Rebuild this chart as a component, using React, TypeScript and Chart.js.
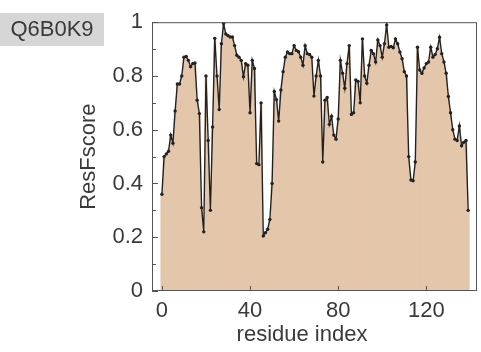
import React, { useEffect, useRef } from "react";
import { Chart, registerables } from "chart.js";

Chart.register(...registerables);

const proteinId = "Q6B0K9";
const xTitle = "residue index";
const yTitle = "ResFscore";
const xTicks = [0, 40, 80, 120];
const yTicks = [0, 0.2, 0.4, 0.6, 0.8, 1];
const resFscore = [
  0.36, 0.5, 0.51, 0.52, 0.58, 0.55, 0.67, 0.77, 0.77, 0.8,
  0.87, 0.873, 0.858, 0.834, 0.846, 0.848, 0.71, 0.66, 0.31, 0.22,
  0.8, 0.56, 0.3, 0.61, 0.94, 0.8, 0.675, 0.92, 0.995, 0.956,
  0.95, 0.945, 0.945, 0.913, 0.877, 0.87, 0.858, 0.797, 0.846, 0.84,
  0.663, 0.858, 0.828, 0.474, 0.47, 0.7, 0.205, 0.217, 0.23, 0.266,
  0.4, 0.742, 0.712, 0.632, 0.748, 0.816, 0.87, 0.889, 0.883, 0.883,
  0.913, 0.895, 0.89, 0.87, 0.84, 0.913, 0.883, 0.88, 0.87, 0.725,
  0.8, 0.858, 0.8, 0.48, 0.71, 0.72, 0.62, 0.65, 0.58, 0.565,
  0.64, 0.858, 0.81, 0.754, 0.846, 0.913, 0.657, 0.663, 0.785, 0.78,
  0.7, 0.938, 0.8, 0.773, 0.84, 0.895, 0.883, 0.852, 0.934, 0.913,
  0.87, 0.92, 0.99, 0.907, 0.91, 0.905, 0.938, 0.92, 0.889, 0.864,
  0.816, 0.8, 0.5, 0.413, 0.41, 0.48, 0.907, 0.822, 0.81, 0.83,
  0.846, 0.852, 0.907, 0.87, 0.88, 0.901, 0.944, 0.883, 0.852, 0.81,
  0.724, 0.663, 0.6, 0.565, 0.56, 0.614, 0.54, 0.553, 0.56, 0.3,
];

const FONT = "'Liberation Sans', Arial, sans-serif";
const TEXT = "#3a3a3a";
const FS = 22;

const decorPlugin = {
  id: "decor",
  afterDraw(chart: any) {
    const { ctx, chartArea } = chart;
    const { left, right, top, bottom } = chartArea;
    const ys = chart.scales.y;
    const xs = chart.scales.x;
    ctx.save();
    // frame
    ctx.strokeStyle = "#555";
    ctx.lineWidth = 1;
    ctx.strokeRect(left + 0.5, top + 0.5, right - left - 1, bottom - top - 1);
    // inward ticks
    ctx.beginPath();
    for (let k = 0; k <= 10; k++) {
      const v = k / 10;
      const py = Math.round(ys.getPixelForValue(v)) + 0.5;
      const len = k % 2 === 0 ? 6 : 4;
      ctx.moveTo(left, py);
      ctx.lineTo(left + len, py);
    }
    for (const t of xTicks) {
      const px = Math.round(xs.getPixelForValue(t)) + 0.5;
      ctx.moveTo(px, bottom);
      ctx.lineTo(px, bottom - 5);
    }
    ctx.stroke();
    // x title
    ctx.fillStyle = TEXT;
    ctx.font = `${FS}px ${FONT}`;
    ctx.textAlign = "center";
    ctx.textBaseline = "middle";
    ctx.fillText(xTitle, 302, 335);
    // id label box
    ctx.fillStyle = "#d6d6d6";
    ctx.fillRect(0, 13, 104, 33);
    ctx.fillStyle = TEXT;
    ctx.fillText(proteinId, 52, 30);
    ctx.restore();
  },
};

export default function App() {
  const ref = useRef<HTMLCanvasElement>(null);
  useEffect(() => {
    if (!ref.current) return;
    const pts = resFscore.map((v, i) => ({ x: i, y: v }));
    const chart = new Chart(ref.current, {
      type: "bar",
      data: {
        datasets: [
          {
            type: "line",
            data: pts,
            borderColor: "#222",
            borderWidth: 1.4,
            pointRadius: 1.7,
            pointBackgroundColor: "#222",
            pointBorderWidth: 0,
            tension: 0,
            order: 0,
          } as any,
          {
            type: "bar",
            data: pts,
            backgroundColor: "rgb(228,198,170)",
            barPercentage: 1,
            categoryPercentage: 1,
            order: 1,
          } as any,
        ],
      },
      plugins: [decorPlugin],
      options: {
        animation: false,
        responsive: false,
        devicePixelRatio: 1,
        layout: { padding: { top: 17, right: 2, left: 0, bottom: 0 } },
        plugins: { legend: { display: false }, tooltip: { enabled: false } },
        scales: {
          x: {
            type: "linear",
            offset: false,
            min: -4.5,
            max: 143,
            grid: { display: false, drawTicks: false },
            border: { display: false },
            afterBuildTicks: (s: any) => {
              s.ticks = xTicks.map((v) => ({ value: v }));
            },
            afterFit: (s: any) => {
              s.height = 61;
            },
            ticks: {
              padding: 7,
              maxRotation: 0,
              color: TEXT,
              font: { family: FONT, size: FS },
            },
          },
          y: {
            min: 0,
            max: 1,
            grid: { display: false, drawTicks: false },
            border: { display: false },
            afterBuildTicks: (s: any) => {
              s.ticks = yTicks.map((v) => ({ value: v }));
            },
            afterFit: (s: any) => {
              s.width = 152;
            },
            ticks: {
              padding: 9,
              color: TEXT,
              font: { family: FONT, size: FS },
              callback: (v: any) => String(+Number(v).toFixed(1)),
            },
            title: {
              display: true,
              text: yTitle,
              color: TEXT,
              font: { family: FONT, size: FS, lineHeight: 1.2 },
              padding: { top: 76, bottom: 0 },
            },
          },
        },
      },
    } as any);
    return () => chart.destroy();
  }, []);
  return (
    <div style={{ position: "fixed", left: 0, top: 0, width: 481, height: 352, background: "#fff" }}>
      <canvas ref={ref} width={481} height={352} style={{ display: "block" }} />
    </div>
  );
}
